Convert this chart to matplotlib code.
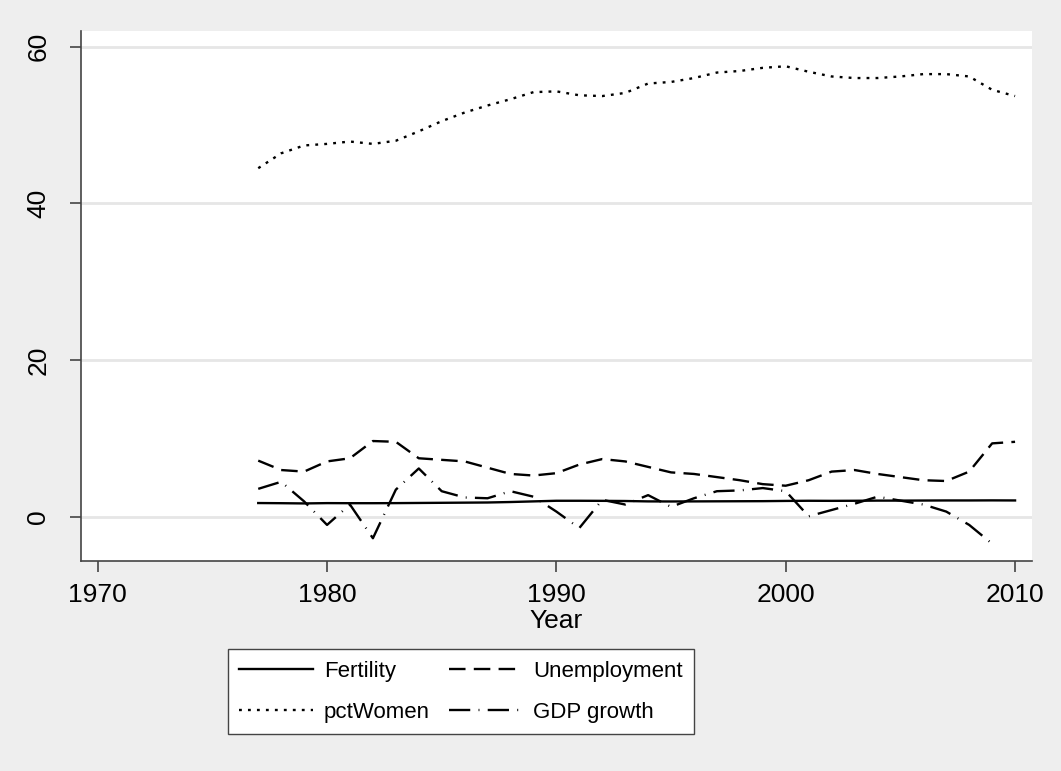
import numpy as np
import matplotlib.pyplot as plt

plt.rcParams['font.family'] = ['Liberation Sans', 'DejaVu Sans']

# annual series, 1977-2010
years = list(range(1977, 2011))
fertility = [1.79, 1.77, 1.74, 1.78, 1.77, 1.77, 1.78, 1.80, 1.82, 1.84, 1.86, 1.92, 2.00, 2.08, 2.08,
             2.07, 2.05, 2.00, 1.99, 2.00, 2.01, 2.02, 2.03, 2.06, 2.08, 2.07, 2.08, 2.10, 2.10, 2.11,
             2.12, 2.12, 2.13, 2.12]
unemployment = [7.2, 6.0, 5.8, 7.1, 7.5, 9.7, 9.6, 7.5, 7.3, 7.1, 6.3, 5.5, 5.3, 5.6, 6.7,
                7.4, 7.1, 6.4, 5.7, 5.5, 5.1, 4.7, 4.2, 4.0, 4.7, 5.8, 6.0, 5.5, 5.1, 4.7,
                4.6, 5.8, 9.4, 9.6]
pct_women = [44.5, 46.4, 47.4, 47.6, 47.9, 47.6, 48.0, 49.2, 50.5, 51.6, 52.5, 53.3, 54.2, 54.3, 53.8,
             53.7, 54.1, 55.3, 55.5, 56.0, 56.7, 56.9, 57.3, 57.5, 56.8, 56.2, 56.0, 56.0, 56.2, 56.5,
             56.5, 56.2, 54.5, 53.7]
gdp_years = list(range(1977, 2010))
gdp_growth = [3.6, 4.5, 2.0, -1.0, 1.6, -2.7, 3.5, 6.2, 3.3, 2.5, 2.4, 3.3, 2.6, 0.7, -1.4,
              2.2, 1.6, 2.8, 1.3, 2.4, 3.3, 3.4, 3.7, 3.3, 0.1, 0.9, 1.7, 2.6, 2.1, 1.6,
              0.7, -1.0, -3.4]

bg = '#eeeeee'
fig = plt.figure(figsize=(10.61, 7.71), dpi=100, facecolor=bg)
ax = fig.add_axes([0.0763, 0.2724, 0.8964, 0.6874])
ax.set_facecolor('white')

lw = 1.7
l1, = ax.plot(years, fertility, color='black', lw=lw, label='Fertility')
l2, = ax.plot(years, unemployment, color='black', lw=lw, dashes=(7, 3.5), label='Unemployment')
l3, = ax.plot(years, pct_women, color='black', lw=lw, dashes=(1.2, 2.6), label='pctWomen')
l4, = ax.plot(gdp_years, gdp_growth, color='black', lw=lw, dashes=(9, 3.5, 0.4, 3.5), label='GDP growth')

ax.set_xlim(1969.27, 2010.74)
ax.set_ylim(-5.6, 62)
ax.set_xticks([1970, 1980, 1990, 2000, 2010])
ax.set_yticks([0, 20, 40, 60])
ax.grid(axis='y', color='#e6e6e6', lw=2)
ax.set_axisbelow(True)

for s in ['top', 'right']:
    ax.spines[s].set_visible(False)
for s in ['left', 'bottom']:
    ax.spines[s].set_color('#444444')
    ax.spines[s].set_linewidth(1.2)

ax.tick_params(axis='both', labelsize=19, length=8, width=1.2, color='#444444')
ax.tick_params(axis='x', pad=8)
ax.tick_params(axis='y', pad=14)
plt.setp(ax.get_yticklabels(), rotation=90, va='center')
ax.set_xlabel('Year', fontsize=19, labelpad=1)

# legend fills column-wise, so order the handles to read row by row
leg = fig.legend([l1, l3, l2, l4], ['Fertility', 'pctWomen', 'Unemployment', 'GDP growth'],
                 loc='center', bbox_to_anchor=(0.4345, 0.103), ncol=2, fontsize=16,
                 handlelength=3.3, columnspacing=0.85, fancybox=False, framealpha=1,
                 edgecolor='#444444', borderpad=0.5, labelspacing=0.9, handletextpad=0.5)
leg.get_frame().set_linewidth(1.0)

fig.savefig('out.png', dpi=100, facecolor=bg)
